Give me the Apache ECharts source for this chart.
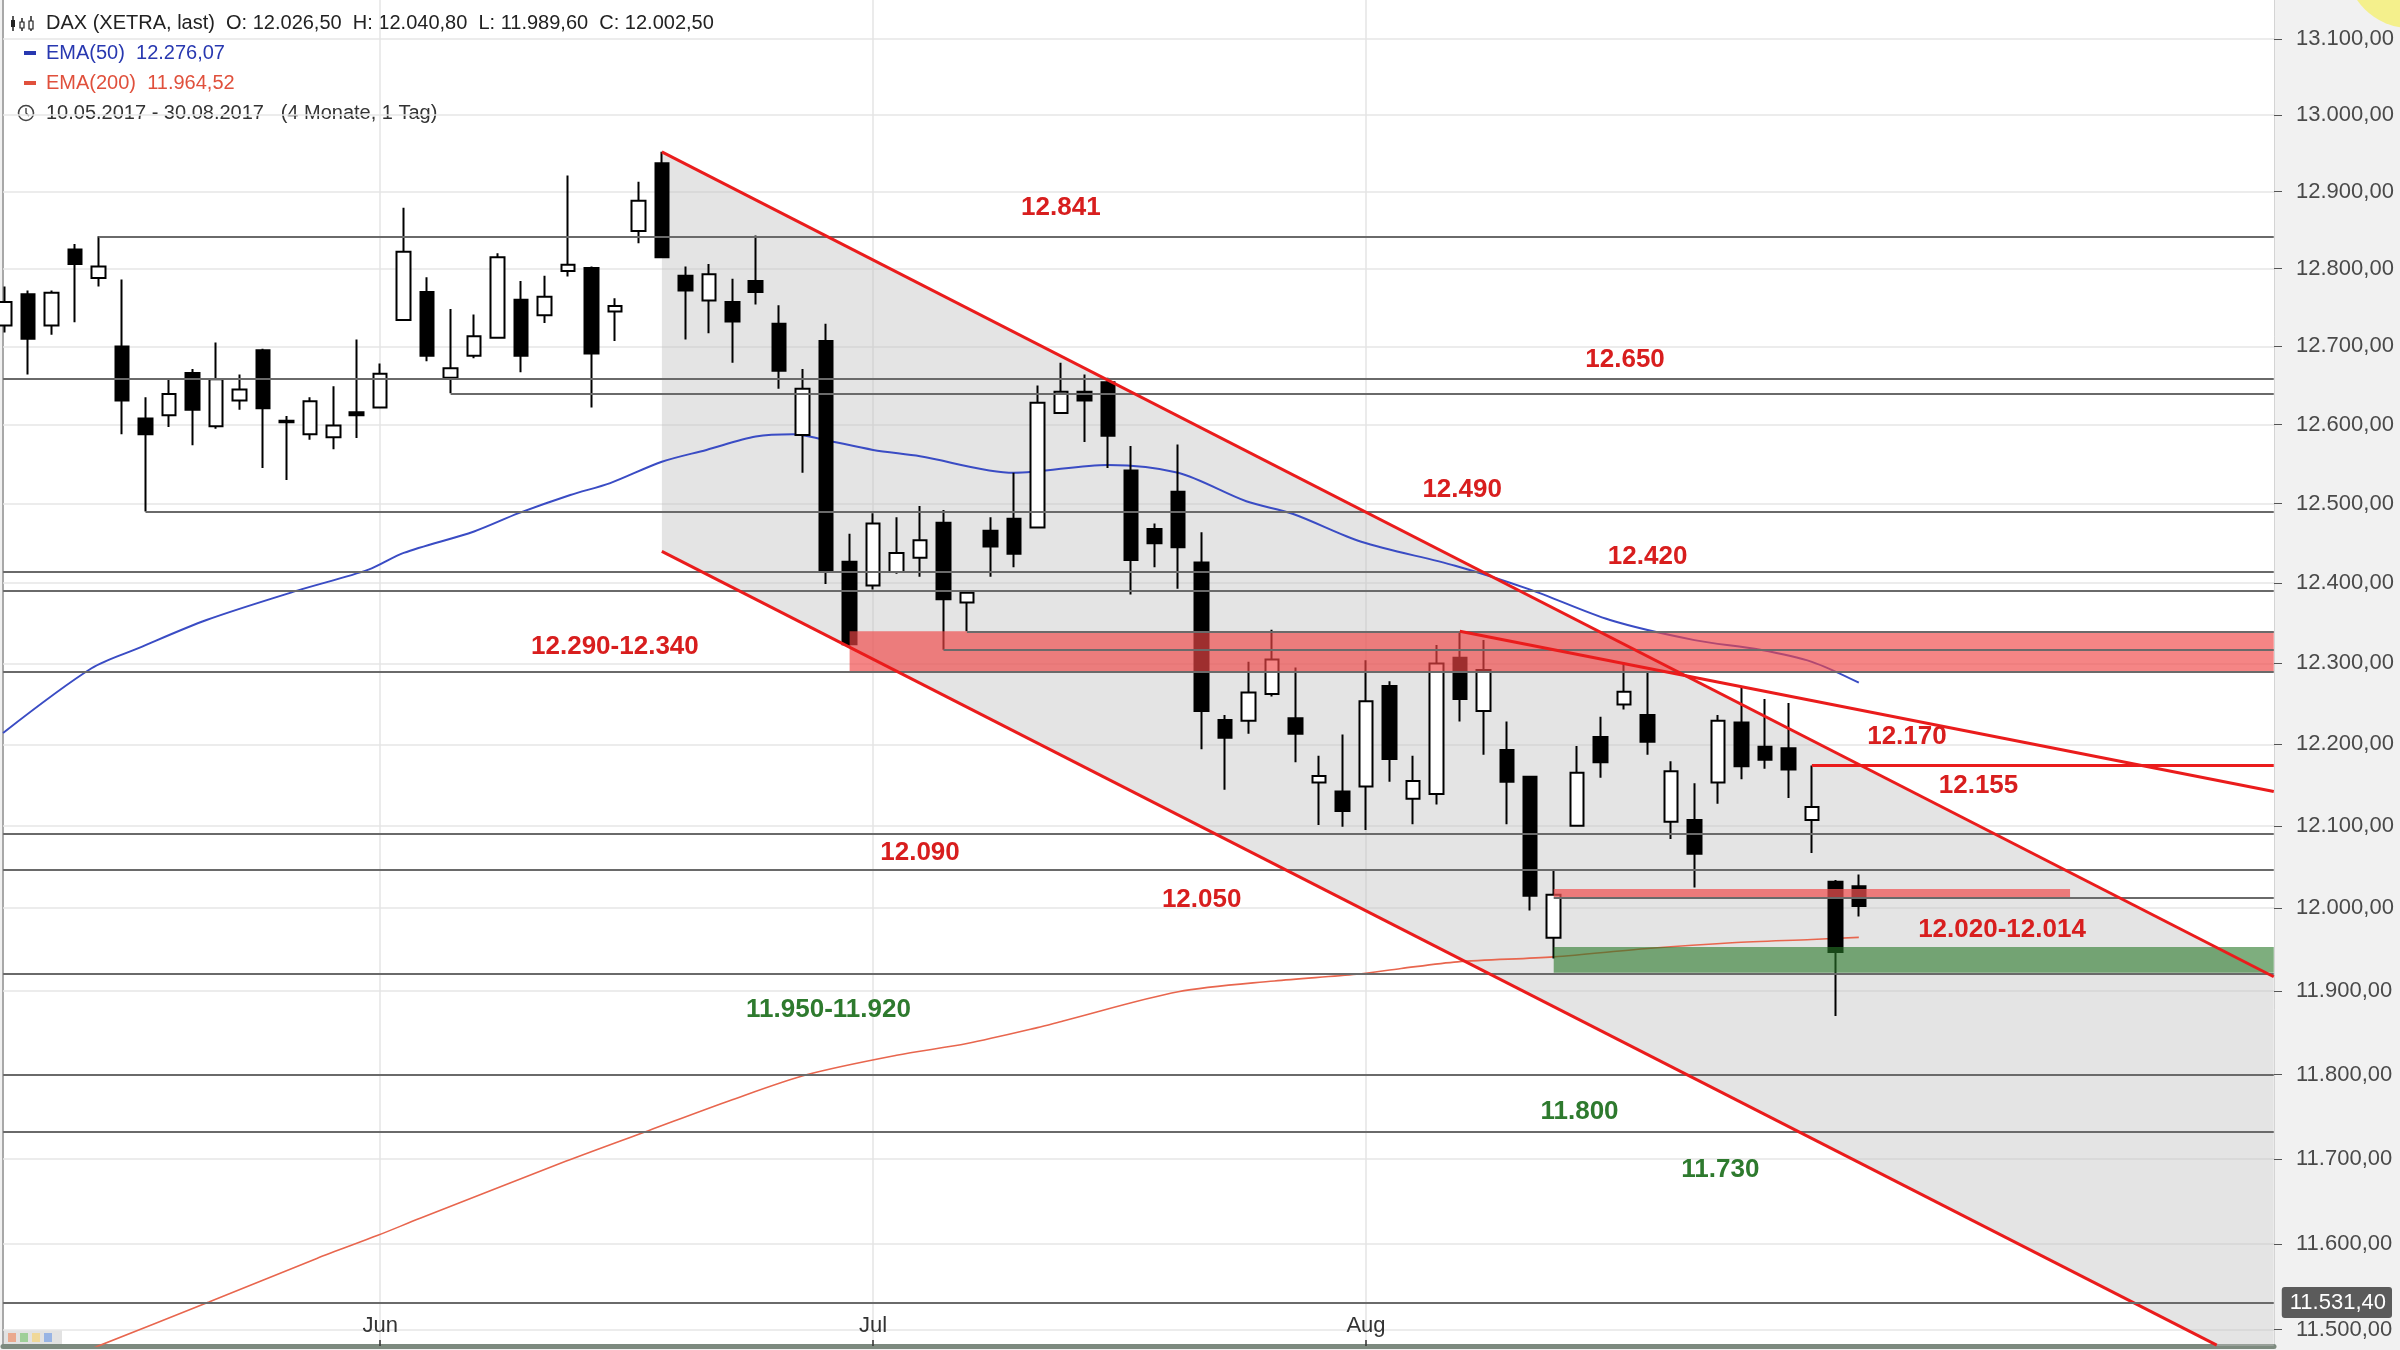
<!DOCTYPE html>
<html>
<head>
<meta charset="utf-8">
<script src="https://cdn.jsdelivr.net/npm/echarts@6/dist/echarts.min.js"></script>
<style>
  html, body { margin: 0; padding: 0; background: #fff; }
  #container { width: 2400px; height: 1350px; }
</style>
</head>
<body>
<div id="container"></div>
<script>
// Handelstage 10.05.2017 - 30.08.2017 (x = Index)
let dates = [
    '10.05.', '11.05.', '12.05.', '15.05.', '16.05.', '17.05.', '18.05.', '19.05.', '22.05.', '23.05.',
    '24.05.', '25.05.', '26.05.', '29.05.', '30.05.', '31.05.',
    '01.06.', '02.06.', '06.06.', '07.06.', '08.06.', '09.06.', '12.06.', '13.06.', '14.06.', '15.06.',
    '16.06.', '19.06.', '20.06.', '21.06.', '22.06.', '23.06.', '26.06.', '27.06.', '28.06.', '29.06.', '30.06.',
    '03.07.', '04.07.', '05.07.', '06.07.', '07.07.', '10.07.', '11.07.', '12.07.', '13.07.', '14.07.',
    '17.07.', '18.07.', '19.07.', '20.07.', '21.07.', '24.07.', '25.07.', '26.07.', '27.07.', '28.07.', '31.07.',
    '01.08.', '02.08.', '03.08.', '04.08.', '07.08.', '08.08.', '09.08.', '10.08.', '11.08.', '14.08.',
    '15.08.', '16.08.', '17.08.', '18.08.', '21.08.', '22.08.', '23.08.', '24.08.', '25.08.', '28.08.', '29.08.', '30.08.'
];

// [open, high, low, close]
let ohlc = [
    [12727, 12777, 12718, 12757], [12767, 12772, 12664, 12710], [12727, 12772, 12715, 12769], [12825, 12832, 12731, 12806],
    [12788, 12842, 12777, 12803], [12700, 12786, 12588, 12631], [12608, 12635, 12490, 12588], [12612, 12658, 12597, 12639],
    [12666, 12671, 12574, 12619], [12598, 12705, 12595, 12658], [12631, 12664, 12619, 12645], [12695, 12697, 12545, 12621],
    [12603, 12611, 12530, 12605], [12588, 12635, 12581, 12630], [12584, 12649, 12569, 12599], [12616, 12709, 12583, 12612],
    [12622, 12678, 12622, 12665], [12734, 12879, 12734, 12822], [12770, 12789, 12681, 12688], [12660, 12748, 12640, 12672],
    [12688, 12741, 12685, 12713], [12711, 12820, 12711, 12815], [12760, 12784, 12667, 12688], [12740, 12791, 12730, 12764],
    [12797, 12921, 12790, 12805], [12801, 12803, 12622, 12691], [12745, 12762, 12707, 12752], [12849, 12913, 12833, 12888],
    [12937, 12952, 12815, 12815], [12791, 12803, 12709, 12772], [12759, 12806, 12717, 12793], [12757, 12787, 12679, 12732],
    [12784, 12843, 12754, 12770], [12729, 12753, 12646, 12669], [12587, 12671, 12539, 12646], [12707, 12729, 12399, 12415],
    [12427, 12462, 12322, 12324], [12397, 12488, 12392, 12475], [12414, 12483, 12412, 12438], [12432, 12497, 12408, 12454],
    [12476, 12492, 12317, 12380], [12376, 12388, 12340, 12388], [12466, 12483, 12408, 12446], [12481, 12539, 12420, 12437],
    [12470, 12650, 12470, 12628], [12615, 12679, 12615, 12642], [12642, 12664, 12578, 12631], [12654, 12660, 12545, 12586],
    [12542, 12573, 12386, 12429], [12468, 12475, 12420, 12450], [12515, 12575, 12393, 12445], [12426, 12464, 12194, 12241],
    [12230, 12236, 12144, 12208], [12229, 12302, 12213, 12264], [12262, 12342, 12259, 12305], [12232, 12295, 12178, 12213],
    [12153, 12186, 12101, 12161], [12142, 12212, 12099, 12118], [12148, 12304, 12095, 12253], [12272, 12278, 12154, 12182],
    [12133, 12186, 12102, 12155], [12139, 12323, 12126, 12300], [12307, 12340, 12228, 12256], [12241, 12329, 12187, 12292],
    [12193, 12228, 12102, 12154], [12160, 12160, 11997, 12015], [11964, 12047, 11939, 12016], [12100, 12198, 12100, 12165],
    [12209, 12234, 12159, 12178], [12249, 12301, 12243, 12265], [12236, 12289, 12187, 12203], [12105, 12179, 12084, 12167],
    [12107, 12152, 12025, 12066], [12153, 12236, 12127, 12229], [12227, 12270, 12157, 12173], [12197, 12256, 12170, 12181],
    [12195, 12251, 12134, 12169], [12107, 12174, 12067, 12123], [12032, 12034, 11870, 11947], [12026.5, 12040.8, 11989.6, 12002.5]
];

// EMA-Linien [index, wert]
let ema50 = [
    [-0.07, 12214], [3.7, 12294], [5.7, 12319], [8.6, 12354], [12.5, 12391], [15.5, 12417], [17, 12438], [20, 12465],
    [21.9, 12488], [24.1, 12511], [25.8, 12526], [28, 12553], [29.9, 12568], [32, 12585], [33.6, 12588], [34.9, 12581],
    [37, 12568], [39, 12560], [43, 12539], [47, 12549], [50, 12539], [52.9, 12503], [54.9, 12487], [57.8, 12452],
    [61.8, 12422], [65, 12392], [68.4, 12354], [72, 12329], [74.8, 12317], [77, 12302], [79, 12276.07]
];
let ema200 = [
    [-0.07, 11438], [3.9, 11480], [8.7, 11532], [13.3, 11583], [15.9, 11610], [17.7, 11630], [23.9, 11697],
    [27.4, 11733], [31, 11770], [34.2, 11800], [38, 11823], [41, 11837], [44, 11856], [45.1, 11864],
    [50, 11899], [54.1, 11912], [57.6, 11920], [59.5, 11927], [61.9, 11935], [66, 11941], [70, 11951],
    [73.6, 11958], [77, 11962], [79, 11964.52]
];

let monthTicks = [16, 37, 58];
let monthNames = ['Jun', 'Jul', 'Aug'];
let yTicks = [11500, 11600, 11700, 11800, 11900, 12000, 12100, 12200, 12300, 12400,
    12500, 12600, 12700, 12800, 12900, 13000, 13100];

let xMin = -0.072, xMax = 96.69;
let yMin = 11481, yMax = 13152;

// horizontale Linien [kurs, start-index] (null = linker Rand)
let levels = [
    [12842, 4], [12659, null], [12640, 19], [12490, 6], [12414, null], [12390, null],
    [12340, 41], [12317, 40], [12290, null], [12090, null], [12047, null], [12013, 66],
    [11921, null], [11800, null], [11732, null]
];
// rote Trendlinien [x1, y1, x2, y2]
let trendLines = [
    [28, 12952, 96.68, 11917],
    [28, 12440, 94.25, 11482],
    [62, 12340, 96.68, 12142],
    [77, 12174, 96.68, 12174]
];
// Zonen [x1, oben, x2, unten, farbe]
let zones = [
    [36, 12340, 96.68, 12290, 'rgba(240,70,70,0.66)'],
    [66, 11953, 96.68, 11922, 'rgba(40,120,40,0.6)'],
    [66, 12023, 88, 12013, 'rgba(240,80,80,0.72)']
];
// Trendkanal (grau)
let channel = [[28, 12952], [96.68, 11917], [96.68, 11481], [94.25, 11481], [28, 12440]];
// Beschriftungen [text, index, kurs, farbe]
let notes = [
    ['12.841', 45, 12879, 'r'], ['12.650', 69.04, 12683, 'r'], ['12.490', 62.1, 12517, 'r'],
    ['12.420', 70, 12433, 'r'], ['12.290-12.340', 26, 12321, 'r'], ['12.170', 81.05, 12209, 'r'],
    ['12.155', 84.1, 12149, 'r'], ['12.090', 39, 12067, 'r'], ['12.050', 51, 12010, 'r'],
    ['12.020-12.014', 85.1, 11974, 'r'], ['11.950-11.920', 35.1, 11877, 'g'],
    ['11.800', 67.1, 11756, 'g'], ['11.730', 73.1, 11687, 'g']
];
let lastPrice = 11531.4;

function de(v) {
    let s = Number(v).toFixed(2).split('.');
    return s[0].replace(/\B(?=(\d{3})+(?!\d))/g, '.') + ',' + s[1];
}

let font = 'Liberation Sans, Arial, sans-serif';
let candleData = ohlc.map(function (d, i) { return [i, d[0], d[3], d[2], d[1]]; });

let dom = document.getElementById('container');
let myChart = echarts.init(dom);
let option = {
    animation: false,
    backgroundColor: '#f1f1f1',
    grid: {
        left: 3, right: 126, top: 0, bottom: 4,
        show: true, backgroundColor: '#ffffff', borderWidth: 0
    },
    xAxis: {
        type: 'value', min: xMin, max: xMax,
        axisLine: { show: true, onZero: false, lineStyle: { color: '#7d8a7f', width: 5 } },
        axisTick: { show: true, inside: true, length: 6, customValues: monthTicks, lineStyle: { color: '#333', width: 1.5 } },
        axisLabel: {
            inside: true, customValues: monthTicks, margin: 9,
            fontSize: 22, color: '#333', fontFamily: font,
            formatter: function (v) { return monthNames[monthTicks.indexOf(Math.round(v))] || ''; }
        },
        splitLine: { show: true, lineStyle: { color: '#e4e4e4', width: 1.5 } }
    },
    yAxis: {
        type: 'log', logBase: 10, min: yMin, max: yMax, position: 'right',
        axisLine: { show: true, onZero: false, lineStyle: { color: '#d4d4d4', width: 1 } },
        axisTick: { show: true, length: 8, customValues: yTicks, lineStyle: { color: '#555' } },
        axisLabel: {
            customValues: yTicks, margin: 22, fontSize: 22, color: '#4a4a4a', fontFamily: font,
            formatter: function (v) { return de(v); }
        },
        splitLine: { show: true, lineStyle: { color: '#e6e6e6', width: 1.5 } }
    },
    series: [
        {
            name: 'Kanal',
            type: 'custom',
            z: 1,
            silent: true,
            data: [0],
            renderItem: function (params, api) {
                let pts = channel.map(function (p) { return api.coord(p); });
                return { type: 'polygon', shape: { points: pts }, style: { fill: 'rgba(190,190,190,0.42)' } };
            }
        },
        {
            name: 'DAX',
            type: 'candlestick',
            z: 2,
            barWidth: 14,
            dimensions: ['idx', 'open', 'close', 'lowest', 'highest'],
            encode: { x: 'idx', y: ['open', 'close', 'lowest', 'highest'] },
            itemStyle: {
                color: '#ffffff', color0: '#000000',
                borderColor: '#000000', borderColor0: '#000000', borderColorDoji: '#000000',
                borderWidth: 2
            },
            data: candleData
        },
        {
            name: 'EMA(50)',
            type: 'line', z: 2, showSymbol: false, smooth: 0.3,
            lineStyle: { color: '#3a4cc4', width: 2 },
            data: ema50
        },
        {
            name: 'EMA(200)',
            type: 'line', z: 2, showSymbol: false, smooth: 0.3,
            lineStyle: { color: '#e8664e', width: 1.6 },
            data: ema200
        },
        {
            name: 'Zonen',
            type: 'line', data: [],
            markArea: {
                z: 3, silent: true,
                data: zones.map(function (zn) {
                    return [{ coord: [zn[0], zn[1]], itemStyle: { color: zn[4] } }, { coord: [zn[2], zn[3]] }];
                })
            }
        },
        {
            name: 'Linien',
            type: 'line', data: [],
            markLine: {
                silent: true, symbol: ['none', 'none'], label: { show: false },
                lineStyle: { color: '#6a6a6a', width: 2, type: 'solid' },
                data: levels.map(function (l) {
                    return [{ coord: [l[1] === null ? -0.07 : l[1], l[0]] }, { coord: [96.68, l[0]] }];
                })
            }
        },
        {
            name: 'Trend',
            type: 'line', data: [],
            markLine: {
                silent: true, symbol: ['none', 'none'], label: { show: false },
                lineStyle: { color: '#ea1c1c', width: 3, type: 'solid' },
                data: trendLines.map(function (t) {
                    return [{ coord: [t[0], t[1]] }, { coord: [t[2], t[3]] }];
                })
            }
        },
        {
            name: 'Kurs',
            type: 'line', data: [],
            markLine: {
                silent: true, symbol: ['none', 'none'],
                lineStyle: { color: '#6a6a6a', width: 2, type: 'solid' },
                label: {
                    show: true, position: 'end', distance: 8,
                    formatter: de(lastPrice),
                    backgroundColor: '#5b5b5b', color: '#ffffff', borderRadius: 3,
                    padding: [5, 6, 4, 8], fontSize: 22, fontFamily: font
                },
                data: [[{ coord: [-0.07, lastPrice] }, { coord: [96.68, lastPrice] }]]
            }
        },
        {
            name: 'Notizen',
            type: 'line', data: [],
            markPoint: {
                silent: true, symbol: 'rect', symbolSize: 1,
                itemStyle: { color: 'rgba(0,0,0,0)' },
                label: { show: true, position: 'inside', formatter: '{b}', fontSize: 26, fontWeight: 'bold', fontFamily: font },
                data: notes.map(function (n) {
                    return {
                        name: n[0], coord: [n[1], n[2]],
                        label: { color: n[3] === 'g' ? '#2e7a2e' : '#d81e1e' }
                    };
                })
            }
        }
    ],
    graphic: [
        { type: 'line', shape: { x1: 3, y1: 0, x2: 3, y2: 1346 }, style: { stroke: '#a8a8a8', lineWidth: 2 } },
        { type: 'circle', shape: { cx: 2410, cy: -36, r: 64 }, style: { fill: '#f4f08c' } },
        // Kopfzeile
        { type: 'line', shape: { x1: 13, y1: 16, x2: 13, y2: 31 }, style: { stroke: '#222', lineWidth: 1.5 } },
        { type: 'rect', shape: { x: 11, y: 20, width: 4, height: 7 }, style: { fill: '#222' } },
        { type: 'line', shape: { x1: 22, y1: 18, x2: 22, y2: 31 }, style: { stroke: '#222', lineWidth: 1.5 } },
        { type: 'rect', shape: { x: 20, y: 22, width: 4, height: 6 }, style: { fill: '#fff', stroke: '#222', lineWidth: 1.2 } },
        { type: 'line', shape: { x1: 31, y1: 16, x2: 31, y2: 31 }, style: { stroke: '#222', lineWidth: 1.5 } },
        { type: 'rect', shape: { x: 29, y: 21, width: 4, height: 8 }, style: { fill: '#fff', stroke: '#222', lineWidth: 1.2 } },
        {
            type: 'text', x: 46, y: 23,
            style: { text: 'DAX (XETRA, last)  O: 12.026,50  H: 12.040,80  L: 11.989,60  C: 12.002,50', fontSize: 20, fill: '#222', fontFamily: font, verticalAlign: 'middle' }
        },
        { type: 'rect', shape: { x: 24, y: 51, width: 12, height: 4 }, style: { fill: '#2838b0' } },
        {
            type: 'text', x: 46, y: 53,
            style: { text: 'EMA(50)  12.276,07', fontSize: 20, fill: '#2838b0', fontFamily: font, verticalAlign: 'middle' }
        },
        { type: 'rect', shape: { x: 24, y: 81, width: 12, height: 4 }, style: { fill: '#e0503c' } },
        {
            type: 'text', x: 46, y: 83,
            style: { text: 'EMA(200)  11.964,52', fontSize: 20, fill: '#e0503c', fontFamily: font, verticalAlign: 'middle' }
        },
        { type: 'circle', shape: { cx: 26, cy: 113, r: 7.5 }, style: { fill: 'none', stroke: '#444', lineWidth: 1.6 } },
        { type: 'polyline', shape: { points: [[26, 108], [26, 113], [29, 116]] }, style: { fill: 'none', stroke: '#444', lineWidth: 1.4 } },
        {
            type: 'text', x: 46, y: 113,
            style: { text: '10.05.2017 - 30.08.2017   (4 Monate, 1 Tag)', fontSize: 20, fill: '#333', fontFamily: font, verticalAlign: 'middle' }
        },
        // kleine Symbolleiste unten links
        { type: 'rect', shape: { x: 4, y: 1330, width: 58, height: 14 }, style: { fill: '#e2e2e2' } },
        { type: 'rect', shape: { x: 8, y: 1333, width: 8, height: 9 }, style: { fill: '#eaa98e' } },
        { type: 'rect', shape: { x: 20, y: 1333, width: 8, height: 9 }, style: { fill: '#9fcf98' } },
        { type: 'rect', shape: { x: 32, y: 1333, width: 8, height: 9 }, style: { fill: '#f0d898' } },
        { type: 'rect', shape: { x: 44, y: 1333, width: 8, height: 9 }, style: { fill: '#98b4e4' } }
    ]
};
if (option && typeof option === 'object') {
    myChart.setOption(option, true);
}
window.onresize = function () {
    myChart.resize();
};
</script>
</body>
</html>
